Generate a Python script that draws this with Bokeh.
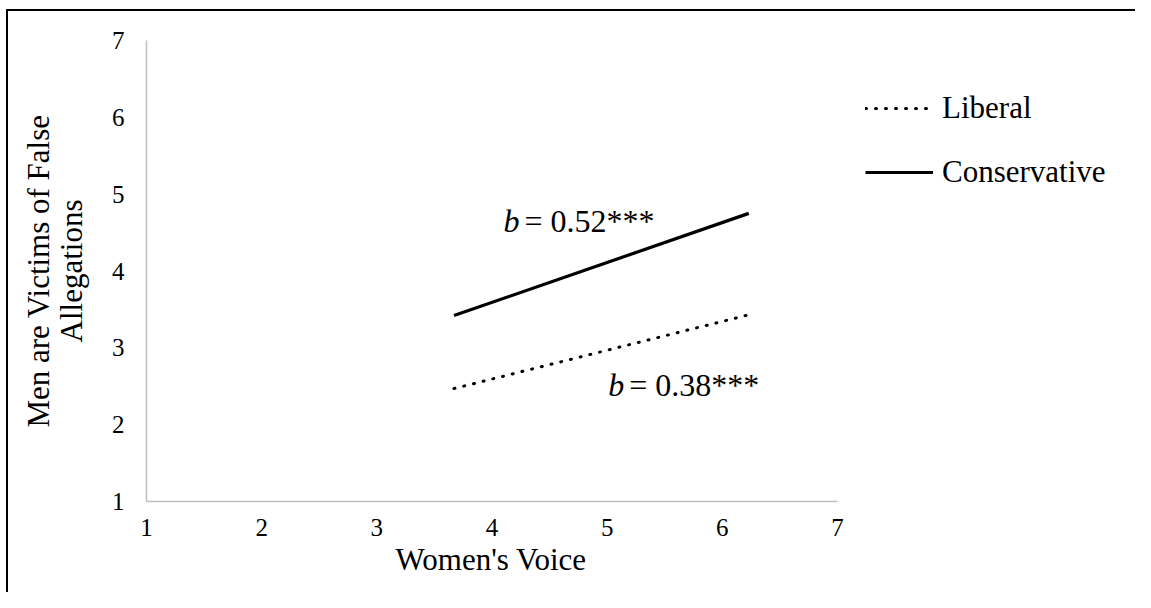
from bokeh.plotting import figure
from bokeh.models import Range1d, FixedTicker, Legend, LegendItem, ColumnDataSource, Title
from bokeh.core.properties import value
from bokeh.embed import file_html
from bokeh.resources import INLINE

# ---- data ----
x_ticks = [1, 2, 3, 4, 5, 6, 7]
y_ticks = [1, 2, 3, 4, 5, 6, 7]
voice = [3.67, 6.23]                 # Women's Voice (low / high)
liberal = [2.47, 3.43]               # Liberal predicted values
conservative = [3.42, 4.75]          # Conservative predicted values
series_names = ["Liberal", "Conservative"]
slope_labels = ["= 0.52***", "= 0.38***"]
slope_x = [4.10, 5.01]
slope_y = [4.657, 2.51]
x_title = "Women's Voice"
y_title = "Men are Victims of False\nAllegations"

FONT = "Liberation Serif"

# the plot frame is widened to the right so the legend can sit inside it;
# the x axis itself is bounded to 1..7
AXIS_PX = 691           # pixel length of the 1..7 x axis
FRAME_PX = 984          # full frame width
x_end = 1 + 6 * FRAME_PX / AXIS_PX

p = figure(width=1135, height=592,
           x_range=Range1d(1, x_end), y_range=Range1d(1, 7),
           output_backend="svg", toolbar_location=None,
           min_border_left=146, min_border_right=5,
           min_border_top=40, min_border_bottom=91)
# chart border (top and left edges; the others fall outside the view)
p.styles = {
    "background": "linear-gradient(#000,#000) 6px 9px / 2px 100% no-repeat, "
                  "linear-gradient(#000,#000) 6px 9px / 100% 2px no-repeat, #fff",
}
p.outline_line_color = None
p.xgrid.visible = False
p.ygrid.visible = False
p.background_fill_alpha = 0
p.border_fill_alpha = 0

for ax, ticks in ((p.xaxis, x_ticks), (p.yaxis, y_ticks)):
    ax.ticker = FixedTicker(ticks=ticks)
    ax.axis_line_color = "#bfbfbf"
    ax.axis_line_width = 1.5
    ax.major_tick_line_color = None
    ax.minor_tick_line_color = None
    ax.major_label_text_font = FONT
    ax.major_label_text_font_size = "25px"
    ax.major_label_text_color = "black"
    ax.axis_label_text_font = FONT
    ax.axis_label_text_font_size = "31px"
    ax.axis_label_text_font_style = "normal"
    ax.axis_label_text_color = "black"

p.xaxis.bounds = (x_ticks[0], x_ticks[-1])
p.xaxis.major_label_standoff = 11
p.yaxis.axis_label = y_title
p.yaxis.axis_label_text_line_height = 0.95
p.yaxis.major_label_standoff = 16
p.yaxis.axis_label_standoff = 20

# x axis title, centred under the 1..7 axis (not the widened frame)
xt = Title(text=x_title, align="left", offset=249, standoff=3,
           text_font=FONT, text_font_size="31px", text_font_style="normal",
           text_color="black")
p.add_layout(xt, "below")

r_lib = p.line(voice, liberal, line_color="black", line_width=3,
               line_dash="1 9", line_cap="round")
r_con = p.line(voice, conservative, line_color="black", line_width=3.2)

# slope annotations
src = ColumnDataSource(dict(x=slope_x, y=slope_y, t=slope_labels, b=["b", "b"]))
p.text(x="x", y="y", text="b", source=src, text_font=value(FONT),
       text_font_style="italic", text_font_size="32px",
       text_baseline="alphabetic", text_align="left", text_color="black")
p.text(x="x", y="y", text="t", source=src, text_font=value(FONT),
       text_font_size="32px", x_offset=21,
       text_baseline="alphabetic", text_align="left", text_color="black")

legend = Legend(items=[LegendItem(label=series_names[0], renderers=[r_lib]),
                       LegendItem(label=series_names[1], renderers=[r_con])],
                location=(719, 311))
legend.label_text_font = FONT
legend.label_text_font_size = "31px"
legend.label_text_color = "black"
legend.glyph_width = 68
legend.glyph_height = 36
legend.label_height = 36
legend.label_standoff = 9
legend.spacing = 28
legend.padding = 0
legend.margin = 0
legend.border_line_color = None
legend.background_fill_alpha = 0
p.add_layout(legend)

open("out.html", "w").write(file_html(p, INLINE))
